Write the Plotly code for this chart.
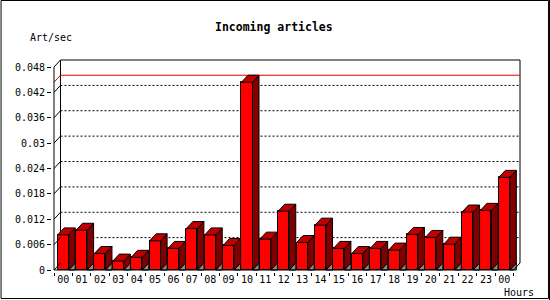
import plotly.graph_objects as go

# ---------------- data ----------------
hours = ["00", "01", "02", "03", "04", "05", "06", "07", "08", "09", "10", "11",
         "12", "13", "14", "15", "16", "17", "18", "19", "20", "21", "22", "23", "00"]
values = [0.0083, 0.0094, 0.0039, 0.0021, 0.0030, 0.0069, 0.0051, 0.0098, 0.0083,
          0.0058, 0.0444, 0.0073, 0.0139, 0.0065, 0.0106, 0.0051, 0.0039, 0.0051,
          0.0047, 0.0084, 0.0077, 0.0061, 0.0137, 0.0141, 0.0219]
ytick_vals = [0, 0.006, 0.012, 0.018, 0.024, 0.03, 0.036, 0.042, 0.048]
ytick_text = ["0", "0.006", "0.012", "0.018", "0.024", "0.03", "0.036", "0.042", "0.048"]
title_text = "Incoming articles"
ylabel_text = "Art/sec"
xlabel_text = "Hours"

# ---------------- geometry / style ----------------
W, H = 550, 300
CAT_PX = 18.4                 # pixels per category
PX_PER_UNIT = 203 / 0.048     # pixels per y unit
DX_PX, DY_PX = 6.5, 7         # 3D depth offset
PAD = 2
BAR_W = 0.6
FRONT = "#ff0000"
TOP = "#c00000"
SIDE = "#800000"
SHADOW = "#8c8c8c"
MONO = "DejaVu Sans Mono"

dxu = DX_PX / CAT_PX
dyu = DY_PX / PX_PER_UNIT
n = len(values)
xs = list(range(n))
x0, x1 = -0.5, n - 0.5
ymax = ytick_vals[-1]

xr = [x0 - PAD / CAT_PX, x1 + dxu + PAD / CAT_PX]
yr = [-PAD / PX_PER_UNIT, ymax + dyu + PAD / PX_PER_UNIT]
L = 53.5 - PAD
T = 67 - DY_PX - PAD
pw = (xr[1] - xr[0]) * CAT_PX
ph = (yr[1] - yr[0]) * PX_PER_UNIT
R = W - L - pw
B = H - T - ph


def px_x(px):
    return (px - L) / pw


def px_y(py):
    return (H - B - py) / ph


fig = go.Figure()

# front faces (bars)
fig.add_trace(go.Bar(x=xs, y=values, width=BAR_W,
                     marker=dict(color=FRONT, line=dict(color="black", width=1)),
                     hoverinfo="skip", showlegend=False))


def poly_trace(polys, color):
    px_, py_ = [], []
    for p in polys:
        for (a, b) in p:
            px_.append(a)
            py_.append(b)
        px_.append(p[0][0])
        py_.append(p[0][1])
        px_.append(None)
        py_.append(None)
    return go.Scatter(x=px_, y=py_, mode="lines", fill="toself", fillcolor=color,
                      line=dict(color="black", width=1), hoverinfo="skip",
                      showlegend=False)


h = BAR_W / 2
shadows, tops, sides = [], [], []
for xi, v in zip(xs, values):
    shadows.append([(xi + h, 0), (xi + h + dxu, dyu), (xi + h + dxu, 0)])
    tops.append([(xi - h, v), (xi - h + dxu, v + dyu), (xi + h + dxu, v + dyu), (xi + h, v)])
    sides.append([(xi + h, 0), (xi + h, v), (xi + h + dxu, v + dyu), (xi + h + dxu, dyu)])
fig.add_trace(poly_trace(shadows, SHADOW))
fig.add_trace(poly_trace(sides, SIDE))
fig.add_trace(poly_trace(tops, TOP))

# front axis lines and depth connectors
ax_x, ax_y = [], []


def seg(a, b, c, d):
    ax_x.extend([a, c, None])
    ax_y.extend([b, d, None])


seg(x0, 0, x1, 0)
seg(x0, 0, x0, ymax)
for v in ytick_vals:
    seg(x0, v, x0 + dxu, v + dyu)
seg(x1, 0, x1 + dxu, dyu)
fig.add_trace(go.Scatter(x=ax_x, y=ax_y, mode="lines", line=dict(color="black", width=1),
                         hoverinfo="skip", showlegend=False))

# background shapes: back frame, dotted grid, max line
shapes = []
for v in ytick_vals[1:-1]:
    shapes.append(dict(type="line", xref="x", yref="y", x0=x0 + dxu, x1=x1 + dxu,
                       y0=v + dyu, y1=v + dyu, layer="below",
                       line=dict(color="black", width=1, dash="2px,2px")))
for (a, b, c, d) in [(x0 + dxu, ymax + dyu, x1 + dxu, ymax + dyu),
                     (x0 + dxu, dyu, x0 + dxu, ymax + dyu),
                     (x1 + dxu, dyu, x1 + dxu, ymax + dyu)]:
    shapes.append(dict(type="line", xref="x", yref="y", x0=a, y0=b, x1=c, y1=d,
                       layer="below", line=dict(color="black", width=1)))
vmax = max(values)
shapes.append(dict(type="path", xref="x", yref="y", layer="below",
                   path=f"M{x0},{vmax} L{x0 + dxu},{vmax + dyu} L{x1 + dxu},{vmax + dyu}",
                   line=dict(color="#e00000", width=1)))
# outer frame
shapes.append(dict(type="rect", xref="paper", yref="paper",
                   x0=px_x(0.5), x1=px_x(548.5), y0=px_y(298.5), y1=px_y(0.5),
                   line=dict(color="black", width=1)))
shapes.append(dict(type="line", xref="paper", yref="paper",
                   x0=px_x(549.5), x1=px_x(549.5), y0=px_y(300), y1=px_y(0),
                   line=dict(color="black", width=1)))

annotations = [
    dict(text=f"<b>{title_text}</b>", xref="paper", yref="paper", x=px_x(274), y=px_y(27),
         xanchor="center", yanchor="middle", showarrow=False,
         font=dict(family=MONO, size=11.5, color="black")),
    dict(text=ylabel_text, xref="paper", yref="paper", x=px_x(50.5), y=px_y(37),
         xanchor="center", yanchor="middle", showarrow=False,
         font=dict(family=MONO, size=10, color="black")),
    dict(text=xlabel_text, xref="paper", yref="paper", x=px_x(519), y=px_y(292),
         xanchor="center", yanchor="middle", showarrow=False,
         font=dict(family=MONO, size=10, color="black")),
]

fig.update_layout(
    width=W, height=H,
    margin=dict(l=L, r=R, t=T, b=B, pad=0),
    paper_bgcolor="white", plot_bgcolor="white",
    showlegend=False, bargap=0,
    shapes=shapes, annotations=annotations,
    xaxis=dict(range=xr, showgrid=False, zeroline=False, showline=False,
               tickmode="array", tickvals=xs, ticktext=hours, ticks="",
               tickfont=dict(family=MONO, size=10, color="black"),
               minor=dict(tickmode="array", tickvals=[x0 + i for i in range(n + 1)],
                          ticks="outside", ticklen=3, tickcolor="black", tickwidth=1,
                          showgrid=False),
               fixedrange=True),
    yaxis=dict(range=yr, showgrid=False, zeroline=False, showline=False,
               tickmode="array", tickvals=ytick_vals, ticktext=ytick_text,
               ticks="outside", ticklen=4, tickcolor="black", tickwidth=1,
               tickfont=dict(family=MONO, size=10, color="black"),
               fixedrange=True),
)

fig.write_html("out.html")
